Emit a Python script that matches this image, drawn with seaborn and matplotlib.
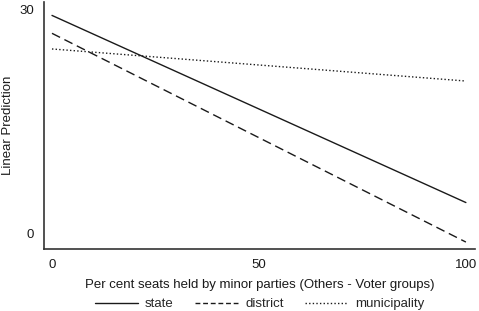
import matplotlib
matplotlib.use("Agg")
import matplotlib.pyplot as plt
import seaborn as sns
import pandas as pd

x_vals = [0, 100]
state = [29.2, 4.1]
district = [26.8, -1.2]
municipality = [24.7, 20.4]
series_names = ["state", "district", "municipality"]

rows = []
for name, vals in zip(series_names, [state, district, municipality]):
    for xv, yv in zip(x_vals, vals):
        rows.append({"x": xv, "y": yv, "level": name})
df = pd.DataFrame(rows)

sns.set_theme(style="white")
plt.rcParams["font.family"] = ["Liberation Sans", "DejaVu Sans"]

fig = plt.figure(figsize=(4.79, 3.11), dpi=100)
ax = fig.add_axes([44/479, (311-249)/311, (475-44)/479, 247/311])

sns.lineplot(data=df, x="x", y="y", hue="level", style="level",
             palette={n: "#1a1a1a" for n in series_names},
             dashes={"state": "", "district": (6.5, 3.5), "municipality": (1, 1.6)},
             linewidth=1.0, ax=ax, legend=True)

ax.set_xlim(-1.93, 102.2)
ax.set_ylim(-2.13, 31.0)
ax.set_xticks([0, 50, 100])
ax.set_yticks([0, 30])
ax.tick_params(axis="both", length=0, labelsize=9.5, colors="#1a1a1a")
ax.tick_params(axis="x", pad=7)
ax.tick_params(axis="y", pad=7)
for s in ["top", "right"]:
    ax.spines[s].set_visible(False)
for s in ["left", "bottom"]:
    ax.spines[s].set_color("#333333")
    ax.spines[s].set_linewidth(1.2)

ax.set_xlabel("Per cent seats held by minor parties (Others - Voter groups)",
              fontsize=9.5, color="#1a1a1a", labelpad=6)
ax.set_ylabel("Linear Prediction", fontsize=9.5, color="#1a1a1a", labelpad=4)

handles, labels = ax.get_legend_handles_labels()
leg = ax.legend(handles, labels, loc="center", bbox_to_anchor=(259.5/479, 1 - 304/311),
                bbox_transform=fig.transFigure, ncol=3, frameon=False, fontsize=9.5,
                handlelength=3.3, columnspacing=1.6, handletextpad=0.5, borderpad=0)
for line, d in zip(leg.get_lines(), ["-", (0, (3.5, 2)), (0, (1, 1.6))]):
    line.set_linewidth(1.0)
    line.set_linestyle(d)

fig.savefig("out.png", dpi=100)
